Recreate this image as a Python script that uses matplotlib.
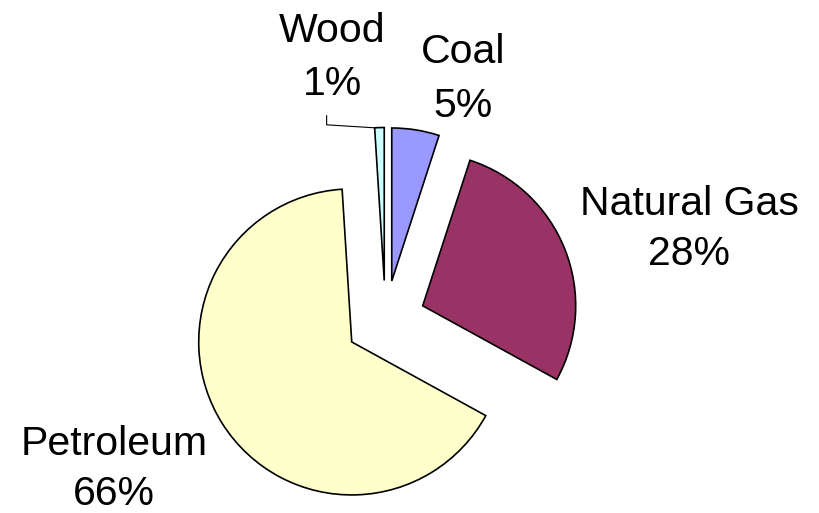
import numpy as np
import matplotlib.pyplot as plt

plt.rcParams['font.family'] = ['Liberation Sans', 'DejaVu Sans']

sources = ["Coal", "Natural Gas", "Petroleum", "Wood"]
shares = [5, 28, 66, 1]
colors = ["#9999FF", "#993366", "#FFFFCC", "#CCFFFF"]

# first-line baseline of each label, in pixels from top-left
label_pos = [(463.5, 63), (689, 215), (114, 455), (332.5, 42)]
line_gap = [54, 50, 50, 53]

W, H = 819, 513
fig = plt.figure(figsize=(W / 100, H / 100), dpi=100)
ax = fig.add_axes([0, 0, 1, 1])

wedges, _ = ax.pie(shares, colors=colors, startangle=90, counterclock=False,
                   explode=[40] * len(shares), radius=153, center=(385.5, H - 320.5),
                   wedgeprops=dict(edgecolor='black', linewidth=1.2))
ax.set_xlim(0, W)
ax.set_ylim(0, H)
ax.set_aspect('equal')
ax.axis('off')

for name, val, (x, y), gap in zip(sources, shares, label_pos, line_gap):
    ax.text(x, H - y, name, fontsize=29.5, ha='center', va='baseline')
    ax.text(x, H - y - gap, f"{val}%", fontsize=29.5, ha='center', va='baseline')

# leader line for the small Wood slice
w = wedges[3]
ang = np.deg2rad(max(w.theta1, w.theta2))
ex = w.center[0] + w.r * np.cos(ang)
ey = w.center[1] + w.r * np.sin(ang)
ax.plot([ex - 48, ex - 48, ex], [ey + 12, ey + 3, ey], color='black', lw=0.8)

fig.savefig("out.png", dpi=100)
